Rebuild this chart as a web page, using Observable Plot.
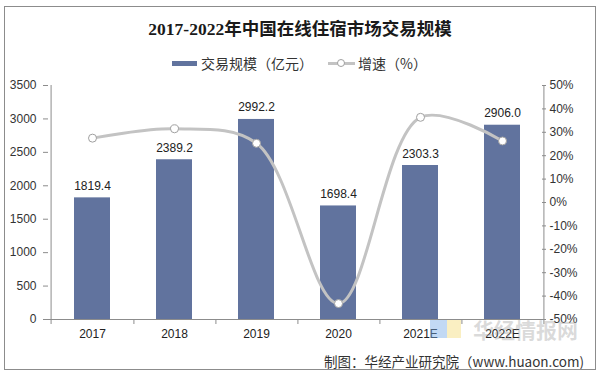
<!DOCTYPE html>
<html><head><meta charset="utf-8">
<script src="https://cdn.jsdelivr.net/npm/d3@7"></script>
<script src="https://cdn.jsdelivr.net/npm/@observablehq/plot@0.6"></script>
<style>
body{margin:0;background:#fff;}
#wrap{position:relative;width:600px;height:381px;overflow:hidden;font-family:"Liberation Sans",Arial,"Noto Sans CJK SC",sans-serif;background:#fff;}
#frame{position:absolute;left:4px;top:6px;width:592px;height:364px;border:1.5px solid #8c8c8c;box-sizing:border-box;z-index:5;pointer-events:none;}
#title{position:absolute;left:0;top:17px;width:600px;text-align:center;font-weight:bold;font-size:17.5px;font-family:"Liberation Serif","Noto Sans CJK SC",serif;color:#1a1a1a;line-height:24px;}
.lg{position:absolute;font-family:"Noto Sans CJK SC",sans-serif;font-size:14px;color:#333;line-height:20px;top:53px;}
#plot{position:absolute;left:0;top:75px;}
#cap{position:absolute;right:16px;top:351px;font-family:"Noto Sans CJK SC",sans-serif;font-size:13.5px;color:#333;line-height:20px;z-index:4;}
#wm{position:absolute;left:473px;top:317px;font-family:"Noto Sans CJK SC",sans-serif;font-weight:bold;font-size:21px;color:rgba(150,150,150,0.35);z-index:3;line-height:24px;}
</style></head>
<body>
<div id="wrap">
  <div id="title">2017-2022年中国在线住宿市场交易规模</div>
  <div style="position:absolute;left:172px;top:61px;width:25px;height:5px;background:#61739e;"></div>
  <div class="lg" style="left:201px;">交易规模（亿元）</div>
  <div style="position:absolute;left:328px;top:62px;width:27px;height:3px;background:#c3c3c3;"></div>
  <div style="position:absolute;left:337px;top:59px;width:8px;height:8px;border-radius:50%;background:#fff;border:1px solid #a0a0a0;box-sizing:border-box;"></div>
  <div class="lg" style="left:358px;">增速（%）</div>
  <div id="plot"></div>
  <div id="wm">华经情报网</div>
  <div style="position:absolute;left:430px;top:320px;width:17px;height:18px;background:rgba(120,170,230,0.45);z-index:3;"></div>
  <div style="position:absolute;left:447px;top:320px;width:14px;height:18px;background:rgba(245,220,120,0.45);z-index:3;"></div>
  <div id="cap">制图：华经产业研究院（www.huaon.com)</div>
  <div id="frame"></div>
</div>
<script>
const years = ["2017", "2018", "2019", "2020", "2021E", "2022E"];
const tradeScale = [1819.4, 2389.2, 2992.2, 1698.4, 2303.3, 2906.0];
const growthRate = [27.5, 31.5, 25.3, -43.2, 36.4, 26.3];
const leftTicks = [0, 500, 1000, 1500, 2000, 2500, 3000, 3500];
const rightTicks = [-50, -40, -30, -20, -10, 0, 10, 20, 30, 40, 50];

const data = years.map((y, i) => ({year: y, value: tradeScale[i], g: growthRate[i]}));
const toLeft = p => (p + 50) * 35; // map -50..50% onto 0..3500

const W = 600, H = 306, mL = 48, mR = 55, mT = 10, mB = 62;
const step = (W - mL - mR) / years.length;
const axisColor = "#8c8c8c";

const chart = Plot.plot({
  width: W, height: H,
  marginLeft: mL, marginRight: mR, marginTop: mT, marginBottom: mB,
  style: {background: "transparent", fontFamily: "'Liberation Sans', Arial, sans-serif", fontSize: "12px", color: "#333", overflow: "visible"},
  x: {domain: years, paddingInner: 0.565, paddingOuter: 0.2825, label: null},
  y: {domain: [0, 3500], label: null},
  marks: [
    Plot.barY(data, {x: "year", y: "value", fill: "#61739e"}),
    Plot.text(data, {x: "year", y: "value", text: d => d.value.toFixed(1), dy: -8, lineAnchor: "bottom", fontSize: 12, fill: "#222"}),
    // axis lines
    Plot.ruleY([0], {stroke: axisColor}),
    Plot.ruleX([years[0]], {dx: -step / 2, y1: 0, y2: 3500, stroke: axisColor}),
    Plot.ruleX([years[years.length - 1]], {dx: step / 2, y1: 0, y2: 3500, stroke: axisColor}),
    // x category boundary ticks
    Plot.ruleX(years, {dx: step / 2, y1: 0, y2: -75, stroke: axisColor}),
    Plot.ruleX([years[0]], {dx: -step / 2, y1: 0, y2: -75, stroke: axisColor}),
    Plot.axisX({tickSize: 0, tickPadding: 10, fontSize: 12, fill: "#222", label: null}),
    Plot.axisY({ticks: leftTicks, tickSize: 5, tickPadding: 7, fontSize: 12, stroke: axisColor, fill: "#333", label: null, tickFormat: d => String(d)}),
    Plot.axisY({anchor: "right", ticks: rightTicks.map(toLeft), tickSize: -4, tickPadding: 8, fontSize: 12, stroke: axisColor, fill: "#333", label: null, tickFormat: d => Math.round(d / 35 - 50) + "%"}),
    // growth line
    Plot.line(data, {x: "year", y: d => toLeft(d.g), curve: "catmull-rom", stroke: "#c3c3c3", strokeWidth: 3}),
    Plot.dot(data, {x: "year", y: d => toLeft(d.g), r: 4, fill: "white", stroke: "#a0a0a0", strokeWidth: 1})
  ]
});
document.getElementById("plot").appendChild(chart);
</script>
</body></html>
